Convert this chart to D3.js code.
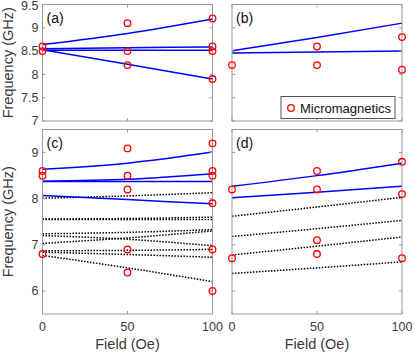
<!DOCTYPE html>
<html>
<head>
<meta charset="utf-8">
<script src="https://cdn.jsdelivr.net/npm/d3@7"></script>
<style>
  body { margin: 0; background: #fff; }
  svg { font-family: "Liberation Sans", Arial, sans-serif; }
</style>
</head>
<body>
<div id="chart"></div>
<script>
// field values (Oe) where each curve / point is sampled
const fields = [0, 50, 100];

// panel (a): model lines and micromagnetics points
const aLines = [[8.64, 8.88, 9.19], [8.55, 8.57, 8.59], [8.52, 8.52, 8.52], [8.53, 8.22, 7.90]];
const aPoints = [[0, 8.6], [0, 8.5], [50, 9.1], [50, 8.5], [50, 8.2], [100, 9.2], [100, 8.6], [100, 8.5], [100, 7.9]];

// panel (b)
const bLines = [[8.51, 8.79, 9.10], [8.46, 8.48, 8.50]];
const bPoints = [[0, 8.2], [50, 8.6], [50, 8.2], [100, 8.8], [100, 8.1]];

// panel (c)
const cLines = [[8.64, 8.77, 9.01], [8.38, 8.42, 8.54], [8.37, 8.37, 8.37], [8.07, 7.98, 7.89]];
const cDotted = [[8.01, 8.06, 8.13], [7.56, 7.57, 7.60], [7.55, 7.55, 7.55], [7.24, 7.27, 7.33],
                 [7.20, 7.12, 6.98], [7.03, 7.15, 7.30], [6.87, 6.88, 6.90], [6.84, 6.79, 6.73], [6.77, 6.50, 6.20]];
const cPoints = [[0, 8.6], [0, 8.5], [0, 6.8], [50, 9.09], [50, 8.5], [50, 8.2], [50, 6.9], [50, 6.4],
                 [100, 9.2], [100, 8.6], [100, 8.5], [100, 7.9], [100, 6.9], [100, 6.0]];

// panel (d)
const dLines = [[8.27, 8.50, 8.77], [8.02, 8.14, 8.27]];
const dDotted = [[7.62, 7.82, 8.03], [7.18, 7.35, 7.53], [6.78, 6.97, 7.17], [6.38, 6.50, 6.63]];
const dPoints = [[0, 8.2], [0, 6.71], [50, 8.6], [50, 8.2], [50, 7.1], [50, 6.8], [100, 8.8], [100, 8.1], [100, 6.71]];

const xTicks = [0, 50, 100];
const topTicks = [7, 7.5, 8, 8.5, 9, 9.5];
const bottomTicks = [6, 7, 8, 9];

const W = 415, H = 356;
const axisColor = "#9a9a9a";
const textColor = "#3a3a3a";

const svg = d3.select("#chart").append("svg")
    .attr("width", W)
    .attr("height", H);

const panels = [
    { label: "(a)", x0: 42.5, x1: 212.5, y0: 4.5, y1: 121, dom: [7, 9.5], ticks: topTicks, yl: true, xl: false,
      lines: aLines, dotted: [], points: aPoints },
    { label: "(b)", x0: 232, x1: 402, y0: 4.5, y1: 121, dom: [7, 9.5], ticks: topTicks, yl: false, xl: false,
      lines: bLines, dotted: [], points: bPoints, legend: true },
    { label: "(c)", x0: 42.5, x1: 212.5, y0: 129.5, y1: 314, dom: [5.5, 9.5], ticks: bottomTicks, yl: true, xl: true,
      lines: cLines, dotted: cDotted, points: cPoints },
    { label: "(d)", x0: 232, x1: 402, y0: 129.5, y1: 314, dom: [5.5, 9.5], ticks: bottomTicks, yl: false, xl: true,
      lines: dLines, dotted: dDotted, points: dPoints }
];

panels.forEach(p => {
    const x = d3.scaleLinear().domain([0, 100]).range([p.x0, p.x1]);
    const y = d3.scaleLinear().domain(p.dom).range([p.y1, p.y0]);
    const g = svg.append("g");

    const line = d3.line()
        .x((d, i) => x(fields[i]))
        .y(d => y(d))
        .curve(d3.curveMonotoneX);

    // dotted lines first, blue on top
    p.dotted.forEach(s => {
        g.append("path")
            .attr("d", line(s))
            .attr("fill", "none")
            .attr("stroke", "#000")
            .attr("stroke-width", 1.5)
            .attr("stroke-dasharray", "1.5,1.5");
    });
    p.lines.forEach(s => {
        g.append("path")
            .attr("d", line(s))
            .attr("fill", "none")
            .attr("stroke", "#0000ff")
            .attr("stroke-width", 1.5);
    });

    // frame
    g.append("rect")
        .attr("x", p.x0).attr("y", p.y0)
        .attr("width", p.x1 - p.x0).attr("height", p.y1 - p.y0)
        .attr("fill", "none")
        .attr("stroke", axisColor)
        .attr("stroke-width", 1);

    // inward ticks on all four sides
    p.ticks.forEach(t => {
        const yy = y(t);
        g.append("line").attr("x1", p.x0).attr("x2", p.x0 + 3).attr("y1", yy).attr("y2", yy).attr("stroke", axisColor);
        g.append("line").attr("x1", p.x1).attr("x2", p.x1 - 3).attr("y1", yy).attr("y2", yy).attr("stroke", axisColor);
        if (p.yl) {
            g.append("text")
                .attr("x", p.x0 - 4)
                .attr("y", Math.max(yy, 6))
                .attr("dy", "0.35em")
                .attr("text-anchor", "end")
                .attr("font-size", 12.5)
                .attr("fill", textColor)
                .text(t);
        }
    });
    xTicks.forEach(t => {
        const xx = x(t);
        g.append("line").attr("x1", xx).attr("x2", xx).attr("y1", p.y1).attr("y2", p.y1 - 3).attr("stroke", axisColor);
        g.append("line").attr("x1", xx).attr("x2", xx).attr("y1", p.y0).attr("y2", p.y0 + 3).attr("stroke", axisColor);
        if (p.xl) {
            g.append("text")
                .attr("x", xx)
                .attr("y", p.y1 + 17)
                .attr("text-anchor", "middle")
                .attr("font-size", 12.5)
                .attr("fill", textColor)
                .text(t);
        }
    });

    // micromagnetics points
    g.selectAll("circle.pt")
        .data(p.points)
        .enter().append("circle")
        .attr("class", "pt")
        .attr("cx", d => x(d[0]))
        .attr("cy", d => y(d[1]))
        .attr("r", 3.3)
        .attr("fill", "none")
        .attr("stroke", "#ff0000")
        .attr("stroke-width", 1.3);

    g.append("text")
        .attr("x", p.x0 + 4)
        .attr("y", p.y0 + 18)
        .attr("font-size", 14)
        .attr("fill", "#111")
        .text(p.label);

    if (p.xl) {
        g.append("text")
            .attr("x", (p.x0 + p.x1) / 2)
            .attr("y", 349)
            .attr("text-anchor", "middle")
            .attr("font-size", 14.5)
            .attr("fill", textColor)
            .text("Field (Oe)");
    }
    if (p.yl) {
        g.append("text")
            .attr("transform", `translate(12.5,${(p.y0 + p.y1) / 2}) rotate(-90)`)
            .attr("text-anchor", "middle")
            .attr("font-size", 14.5)
            .attr("fill", textColor)
            .text("Frequency (GHz)");
    }

    if (p.legend) {
        const lg = g.append("g");
        lg.append("rect")
            .attr("x", 281).attr("y", 96.5)
            .attr("width", 114).attr("height", 22)
            .attr("fill", "#fff")
            .attr("stroke", "#555")
            .attr("stroke-width", 1);
        lg.append("circle")
            .attr("cx", 291).attr("cy", 108)
            .attr("r", 3.3)
            .attr("fill", "none")
            .attr("stroke", "#ff0000")
            .attr("stroke-width", 1.3);
        lg.append("text")
            .attr("x", 300).attr("y", 112.5)
            .attr("font-size", 13)
            .attr("fill", "#111")
            .text("Micromagnetics");
    }
});
</script>
</body>
</html>
